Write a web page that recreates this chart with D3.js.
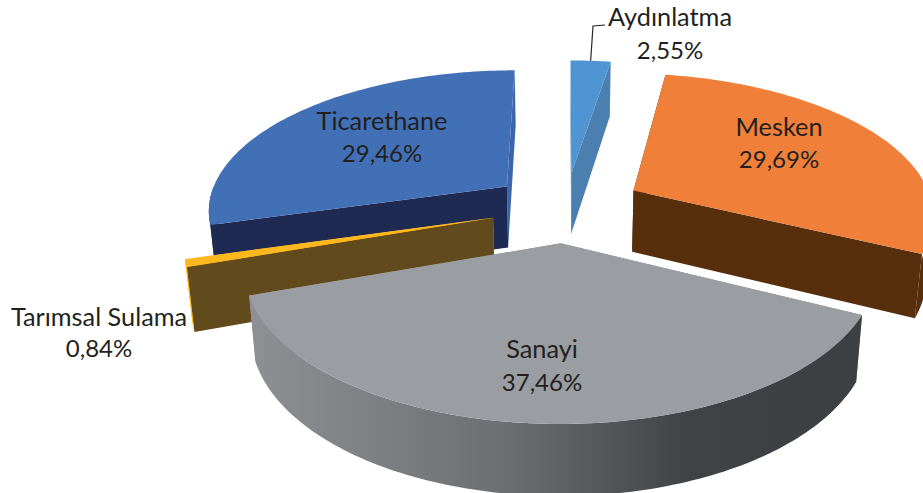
<!DOCTYPE html>
<html>
<head>
<meta charset="utf-8">
<script src="https://cdn.jsdelivr.net/npm/d3@7"></script>
<style>
  html, body { margin: 0; padding: 0; background: #fff; }
  svg { display: block; }
  text { font-family: Lato, "Open Sans", sans-serif; font-size: 25.3px; fill: #231f20; text-anchor: middle; }
  text.share { font-size: 24px; }
</style>
</head>
<body>
<svg width="923" height="493"></svg>
<script>
// Data
const categories = ["Aydınlatma", "Mesken", "Sanayi", "Tarımsal Sulama", "Ticarethane"];
const shares = [2.55, 29.69, 37.46, 0.84, 29.46];
const shareLabels = ["2,55%", "29,69%", "37,46%", "0,84%", "29,46%"];

// Colours, same order as categories
const topColors = ["#4f94d3", "#f07f3a", "#9a9da1", "#ffb91f", "#4170b7"];
const startFaceColors = ["#4a7fb0", "#582f0d", "#9a9da1", "#614a1c", "#1f2a52"];
const endFaceColors = ["#4a7fb0", "#582f0d", "#9a9da1", "#ffb91f", "#3b66ab"];
const rimColors = ["#4a7fb0", "#582f0d", "url(#rimShade)", "#ffb91f", "#1f2a52"];

// back to front
const drawOrder = [4, 0, 1, 3, 2];

// 3d view settings
const explode = [0.25, 0.26, 0.25, 0.25, 0.25];
const perspective = 0.155;
const thickness = 62;
const taper = 0.02;

// label baselines, category line first, same order as categories
const labelSpots = [[670, 26, 59], [779, 136, 168], [542, 358, 391], [99, 326, 357], [382, 130, 162]];

const svg = d3.select("svg");
const scaleX = d3.scaleLinear().domain([-1, 1]).range([265.5, 865.5]);
const scaleY = d3.scaleLinear().domain([-1, 1]).range([347, 67]);

const pie = d3.pie().sort(null).value(d => d);
const arcs = pie(shares);

// ground plane -> screen. depth = 0 is the top surface, 1 is the bottom one
function project(gx, gy, depth) {
  let w = 1 + perspective * gy;
  let cx = scaleX(0);
  let x = cx + (scaleX(gx / w) - cx) * (1 - taper * depth);
  let y = scaleY(gy / w) + depth * thickness / Math.pow(w, 0.7);
  return [x, y];
}

function offsetOf(a) {
  let mid = (a.startAngle + a.endAngle) / 2;
  return [explode[a.index] * Math.sin(mid), explode[a.index] * Math.cos(mid)];
}

function polar(a, r, angle, depth) {
  let o = offsetOf(a);
  return project(o[0] + r * Math.sin(angle), o[1] + r * Math.cos(angle), depth);
}

function angleSteps(from, to) {
  let n = Math.max(2, Math.ceil((to - from) / 0.02));
  return d3.range(n + 1).map(i => from + (to - from) * i / n);
}

const line = d3.line();

// gradient of the big rim
let grad = svg.append("defs").append("linearGradient")
  .attr("id", "rimShade")
  .attr("gradientUnits", "userSpaceOnUse")
  .attr("x1", 248).attr("x2", 862).attr("y1", 0).attr("y2", 0);
grad.selectAll("stop")
  .data([[0, "#8e9094"], [0.42, "#6c6f72"], [0.72, "#3f4346"], [1, "#3c4043"]])
  .join("stop")
  .attr("offset", d => d[0])
  .attr("stop-color", d => d[1]);

const slices = svg.append("g").selectAll("g")
  .data(drawOrder)
  .join("g");

slices.each(function(i) {
  let a = arcs[i];
  let g = d3.select(this);

  // cut faces
  let endFace = [polar(a, 0, 0, 0), polar(a, 1, a.endAngle, 0), polar(a, 1, a.endAngle, 1), polar(a, 0, 0, 1)];
  g.append("path").attr("d", line(endFace) + "Z").attr("fill", endFaceColors[i]);
  let startFace = [polar(a, 0, 0, 0), polar(a, 1, a.startAngle, 0), polar(a, 1, a.startAngle, 1), polar(a, 0, 0, 1)];
  g.append("path").attr("d", line(startFace) + "Z").attr("fill", startFaceColors[i]);

  // rim, only the part that looks at the viewer
  let from = Math.max(a.startAngle, Math.PI / 2);
  let to = Math.min(a.endAngle, Math.PI * 1.5);
  if (to > from) {
    let steps = angleSteps(from, to);
    let rim = steps.map(t => polar(a, 1, t, 0))
      .concat(steps.slice().reverse().map(t => polar(a, 1, t, 1)));
    g.append("path").attr("d", line(rim) + "Z").attr("fill", rimColors[i]);
  }

  // top
  let top = [polar(a, 0, 0, 0)].concat(angleSteps(a.startAngle, a.endAngle).map(t => polar(a, 1, t, 0)));
  g.append("path").attr("d", line(top) + "Z").attr("fill", topColors[i]);
});

// labels
const labels = svg.append("g");
categories.forEach((name, i) => {
  let s = labelSpots[i];
  labels.append("text").attr("x", s[0]).attr("y", s[1]).text(name);
  labels.append("text").attr("class", "share").attr("x", s[0]).attr("y", s[2]).text(shareLabels[i]);
});

// leader of Aydınlatma
let top0 = polar(arcs[0], 1, (arcs[0].startAngle + arcs[0].endAngle) / 2, 0);
svg.append("path")
  .attr("d", line([top0, [593, 26], [605, 25]]))
  .attr("fill", "none")
  .attr("stroke", "#262626")
  .attr("stroke-width", 1.2);
</script>
</body>
</html>
